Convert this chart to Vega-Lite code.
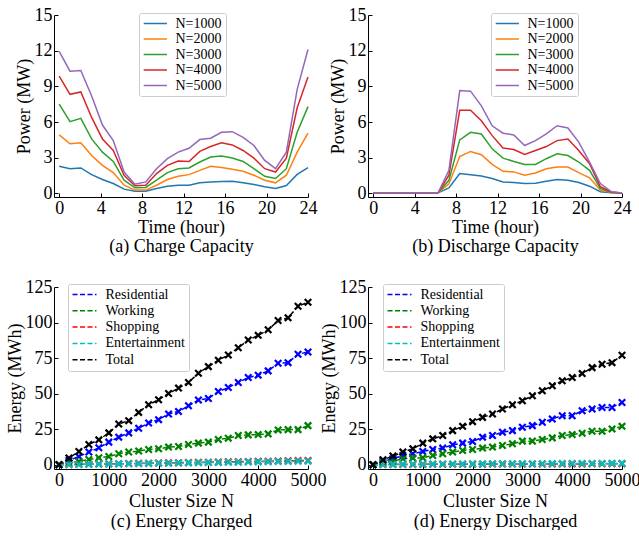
{
"$schema": "https://vega.github.io/schema/vega-lite/v6.json",
"padding": {"left": 6, "top": 6, "right": 0, "bottom": 0},
"config": {
  "font": "Liberation Serif",
  "view": {"stroke": null},
  "axis": {"domainColor": "black", "tickColor": "black", "tickSize": -4, "labelFont": "Liberation Serif", "labelFontSize": 18, "labelColor": "black", "titleFont": "Liberation Serif", "titleFontSize": 18, "titleFontWeight": "normal", "titleColor": "black", "grid": false, "labelFlush": false, "labelOverlap": false, "format": "d"},
  "axisX": {"labelPadding": 6, "titlePadding": 1},
  "axisY": {"labelPadding": 6, "titlePadding": 1},
  "legend": {"labelFont": "Liberation Serif", "labelFontSize": 14, "labelColor": "black", "strokeColor": "#cccccc", "fillColor": "white", "padding": 3.5, "cornerRadius": 2, "title": null, "orient": "none"}
},
"datasets": {
"charge": [
{"t":0,"s":"N=1000","p":2.28},{"t":1.043,"s":"N=1000","p":2.08},{"t":2.087,"s":"N=1000","p":2.14},{"t":3.13,"s":"N=1000","p":1.58},{"t":4.174,"s":"N=1000","p":1.17},{"t":5.217,"s":"N=1000","p":0.83},{"t":6.261,"s":"N=1000","p":0.36},{"t":7.304,"s":"N=1000","p":0.19},{"t":8.348,"s":"N=1000","p":0.19},{"t":9.391,"s":"N=1000","p":0.42},{"t":10.435,"s":"N=1000","p":0.61},{"t":11.478,"s":"N=1000","p":0.69},{"t":12.522,"s":"N=1000","p":0.69},{"t":13.565,"s":"N=1000","p":0.89},{"t":14.609,"s":"N=1000","p":0.97},{"t":15.652,"s":"N=1000","p":1.0},{"t":16.696,"s":"N=1000","p":1.03},{"t":17.739,"s":"N=1000","p":0.89},{"t":18.783,"s":"N=1000","p":0.75},{"t":19.826,"s":"N=1000","p":0.56},{"t":20.87,"s":"N=1000","p":0.42},{"t":21.913,"s":"N=1000","p":0.66},{"t":22.957,"s":"N=1000","p":1.6},{"t":24,"s":"N=1000","p":2.17},
{"t":0,"s":"N=2000","p":4.92},{"t":1.043,"s":"N=2000","p":4.17},{"t":2.087,"s":"N=2000","p":4.25},{"t":3.13,"s":"N=2000","p":3.19},{"t":4.174,"s":"N=2000","p":2.36},{"t":5.217,"s":"N=2000","p":1.75},{"t":6.261,"s":"N=2000","p":0.69},{"t":7.304,"s":"N=2000","p":0.28},{"t":8.348,"s":"N=2000","p":0.28},{"t":9.391,"s":"N=2000","p":0.69},{"t":10.435,"s":"N=2000","p":1.17},{"t":11.478,"s":"N=2000","p":1.44},{"t":12.522,"s":"N=2000","p":1.58},{"t":13.565,"s":"N=2000","p":1.94},{"t":14.609,"s":"N=2000","p":2.28},{"t":15.652,"s":"N=2000","p":2.17},{"t":16.696,"s":"N=2000","p":2.03},{"t":17.739,"s":"N=2000","p":1.86},{"t":18.783,"s":"N=2000","p":1.53},{"t":19.826,"s":"N=2000","p":1.11},{"t":20.87,"s":"N=2000","p":0.89},{"t":21.913,"s":"N=2000","p":1.53},{"t":22.957,"s":"N=2000","p":3.47},{"t":24,"s":"N=2000","p":5.06},
{"t":0,"s":"N=3000","p":7.5},{"t":1.043,"s":"N=3000","p":6.03},{"t":2.087,"s":"N=3000","p":6.31},{"t":3.13,"s":"N=3000","p":4.58},{"t":4.174,"s":"N=3000","p":3.47},{"t":5.217,"s":"N=3000","p":2.69},{"t":6.261,"s":"N=3000","p":1.11},{"t":7.304,"s":"N=3000","p":0.47},{"t":8.348,"s":"N=3000","p":0.5},{"t":9.391,"s":"N=3000","p":1.11},{"t":10.435,"s":"N=3000","p":1.75},{"t":11.478,"s":"N=3000","p":2.08},{"t":12.522,"s":"N=3000","p":2.14},{"t":13.565,"s":"N=3000","p":2.64},{"t":14.609,"s":"N=3000","p":3.06},{"t":15.652,"s":"N=3000","p":3.14},{"t":16.696,"s":"N=3000","p":2.97},{"t":17.739,"s":"N=3000","p":2.69},{"t":18.783,"s":"N=3000","p":2.08},{"t":19.826,"s":"N=3000","p":1.44},{"t":20.87,"s":"N=3000","p":1.25},{"t":21.913,"s":"N=3000","p":2.08},{"t":22.957,"s":"N=3000","p":5.14},{"t":24,"s":"N=3000","p":7.3},
{"t":0,"s":"N=4000","p":9.86},{"t":1.043,"s":"N=4000","p":8.33},{"t":2.087,"s":"N=4000","p":8.53},{"t":3.13,"s":"N=4000","p":6.39},{"t":4.174,"s":"N=4000","p":4.58},{"t":5.217,"s":"N=4000","p":3.61},{"t":6.261,"s":"N=4000","p":1.53},{"t":7.304,"s":"N=4000","p":0.64},{"t":8.348,"s":"N=4000","p":0.69},{"t":9.391,"s":"N=4000","p":1.67},{"t":10.435,"s":"N=4000","p":2.36},{"t":11.478,"s":"N=4000","p":2.72},{"t":12.522,"s":"N=4000","p":2.69},{"t":13.565,"s":"N=4000","p":3.53},{"t":14.609,"s":"N=4000","p":3.94},{"t":15.652,"s":"N=4000","p":4.25},{"t":16.696,"s":"N=4000","p":4.08},{"t":17.739,"s":"N=4000","p":3.61},{"t":18.783,"s":"N=4000","p":2.97},{"t":19.826,"s":"N=4000","p":2.08},{"t":20.87,"s":"N=4000","p":1.8},{"t":21.913,"s":"N=4000","p":2.97},{"t":22.957,"s":"N=4000","p":7.2},{"t":24,"s":"N=4000","p":9.78},
{"t":0,"s":"N=5000","p":11.94},{"t":1.043,"s":"N=5000","p":10.28},{"t":2.087,"s":"N=5000","p":10.33},{"t":3.13,"s":"N=5000","p":8.19},{"t":4.174,"s":"N=5000","p":5.75},{"t":5.217,"s":"N=5000","p":4.44},{"t":6.261,"s":"N=5000","p":1.8},{"t":7.304,"s":"N=5000","p":0.78},{"t":8.348,"s":"N=5000","p":0.97},{"t":9.391,"s":"N=5000","p":2.08},{"t":10.435,"s":"N=5000","p":2.92},{"t":11.478,"s":"N=5000","p":3.47},{"t":12.522,"s":"N=5000","p":3.8},{"t":13.565,"s":"N=5000","p":4.53},{"t":14.609,"s":"N=5000","p":4.64},{"t":15.652,"s":"N=5000","p":5.14},{"t":16.696,"s":"N=5000","p":5.19},{"t":17.739,"s":"N=5000","p":4.72},{"t":18.783,"s":"N=5000","p":4.03},{"t":19.826,"s":"N=5000","p":2.78},{"t":20.87,"s":"N=5000","p":2.08},{"t":21.913,"s":"N=5000","p":3.47},{"t":22.957,"s":"N=5000","p":8.75},{"t":24,"s":"N=5000","p":12.1}
],
"discharge": [
{"t":0,"s":"N=1000","p":0.05},{"t":1.043,"s":"N=1000","p":0.05},{"t":2.087,"s":"N=1000","p":0.05},{"t":3.13,"s":"N=1000","p":0.05},{"t":4.174,"s":"N=1000","p":0.05},{"t":5.217,"s":"N=1000","p":0.05},{"t":6.261,"s":"N=1000","p":0.05},{"t":7.304,"s":"N=1000","p":0.47},{"t":8.348,"s":"N=1000","p":1.67},{"t":9.391,"s":"N=1000","p":1.58},{"t":10.435,"s":"N=1000","p":1.47},{"t":11.478,"s":"N=1000","p":1.25},{"t":12.522,"s":"N=1000","p":0.97},{"t":13.565,"s":"N=1000","p":0.92},{"t":14.609,"s":"N=1000","p":0.83},{"t":15.652,"s":"N=1000","p":0.86},{"t":16.696,"s":"N=1000","p":1.03},{"t":17.739,"s":"N=1000","p":1.17},{"t":18.783,"s":"N=1000","p":1.11},{"t":19.826,"s":"N=1000","p":0.92},{"t":20.87,"s":"N=1000","p":0.61},{"t":21.913,"s":"N=1000","p":0.14},{"t":22.957,"s":"N=1000","p":0.05},{"t":24,"s":"N=1000","p":0.03},
{"t":0,"s":"N=2000","p":0.05},{"t":1.043,"s":"N=2000","p":0.05},{"t":2.087,"s":"N=2000","p":0.05},{"t":3.13,"s":"N=2000","p":0.05},{"t":4.174,"s":"N=2000","p":0.05},{"t":5.217,"s":"N=2000","p":0.05},{"t":6.261,"s":"N=2000","p":0.05},{"t":7.304,"s":"N=2000","p":0.8},{"t":8.348,"s":"N=2000","p":3.1},{"t":9.391,"s":"N=2000","p":3.53},{"t":10.435,"s":"N=2000","p":3.25},{"t":11.478,"s":"N=2000","p":2.44},{"t":12.522,"s":"N=2000","p":1.86},{"t":13.565,"s":"N=2000","p":1.81},{"t":14.609,"s":"N=2000","p":1.53},{"t":15.652,"s":"N=2000","p":1.72},{"t":16.696,"s":"N=2000","p":2.08},{"t":17.739,"s":"N=2000","p":2.22},{"t":18.783,"s":"N=2000","p":2.22},{"t":19.826,"s":"N=2000","p":1.75},{"t":20.87,"s":"N=2000","p":1.31},{"t":21.913,"s":"N=2000","p":0.28},{"t":22.957,"s":"N=2000","p":0.08},{"t":24,"s":"N=2000","p":0.03},
{"t":0,"s":"N=3000","p":0.05},{"t":1.043,"s":"N=3000","p":0.05},{"t":2.087,"s":"N=3000","p":0.05},{"t":3.13,"s":"N=3000","p":0.05},{"t":4.174,"s":"N=3000","p":0.05},{"t":5.217,"s":"N=3000","p":0.05},{"t":6.261,"s":"N=3000","p":0.05},{"t":7.304,"s":"N=3000","p":1.1},{"t":8.348,"s":"N=3000","p":4.5},{"t":9.391,"s":"N=3000","p":5.14},{"t":10.435,"s":"N=3000","p":5.0},{"t":11.478,"s":"N=3000","p":3.75},{"t":12.522,"s":"N=3000","p":2.97},{"t":13.565,"s":"N=3000","p":2.69},{"t":14.609,"s":"N=3000","p":2.44},{"t":15.652,"s":"N=3000","p":2.44},{"t":16.696,"s":"N=3000","p":2.92},{"t":17.739,"s":"N=3000","p":3.33},{"t":18.783,"s":"N=3000","p":3.19},{"t":19.826,"s":"N=3000","p":2.64},{"t":20.87,"s":"N=3000","p":1.94},{"t":21.913,"s":"N=3000","p":0.42},{"t":22.957,"s":"N=3000","p":0.1},{"t":24,"s":"N=3000","p":0.03},
{"t":0,"s":"N=4000","p":0.05},{"t":1.043,"s":"N=4000","p":0.05},{"t":2.087,"s":"N=4000","p":0.05},{"t":3.13,"s":"N=4000","p":0.05},{"t":4.174,"s":"N=4000","p":0.05},{"t":5.217,"s":"N=4000","p":0.05},{"t":6.261,"s":"N=4000","p":0.05},{"t":7.304,"s":"N=4000","p":1.53},{"t":8.348,"s":"N=4000","p":7.0},{"t":9.391,"s":"N=4000","p":7.0},{"t":10.435,"s":"N=4000","p":6.11},{"t":11.478,"s":"N=4000","p":4.86},{"t":12.522,"s":"N=4000","p":3.81},{"t":13.565,"s":"N=4000","p":3.69},{"t":14.609,"s":"N=4000","p":3.28},{"t":15.652,"s":"N=4000","p":3.61},{"t":16.696,"s":"N=4000","p":3.94},{"t":17.739,"s":"N=4000","p":4.44},{"t":18.783,"s":"N=4000","p":4.58},{"t":19.826,"s":"N=4000","p":3.61},{"t":20.87,"s":"N=4000","p":2.5},{"t":21.913,"s":"N=4000","p":0.56},{"t":22.957,"s":"N=4000","p":0.12},{"t":24,"s":"N=4000","p":0.03},
{"t":0,"s":"N=5000","p":0.05},{"t":1.043,"s":"N=5000","p":0.05},{"t":2.087,"s":"N=5000","p":0.05},{"t":3.13,"s":"N=5000","p":0.05},{"t":4.174,"s":"N=5000","p":0.05},{"t":5.217,"s":"N=5000","p":0.05},{"t":6.261,"s":"N=5000","p":0.05},{"t":7.304,"s":"N=5000","p":1.94},{"t":8.348,"s":"N=5000","p":8.65},{"t":9.391,"s":"N=5000","p":8.6},{"t":10.435,"s":"N=5000","p":7.36},{"t":11.478,"s":"N=5000","p":5.69},{"t":12.522,"s":"N=5000","p":5.06},{"t":13.565,"s":"N=5000","p":4.92},{"t":14.609,"s":"N=5000","p":4.03},{"t":15.652,"s":"N=5000","p":4.44},{"t":16.696,"s":"N=5000","p":5.0},{"t":17.739,"s":"N=5000","p":5.69},{"t":18.783,"s":"N=5000","p":5.5},{"t":19.826,"s":"N=5000","p":4.31},{"t":20.87,"s":"N=5000","p":2.64},{"t":21.913,"s":"N=5000","p":0.83},{"t":22.957,"s":"N=5000","p":0.15},{"t":24,"s":"N=5000","p":0.03}
],
"ec": [
{"n":0,"c":"Residential","e":0},{"n":200,"c":"Residential","e":3},{"n":400,"c":"Residential","e":5.8},{"n":600,"c":"Residential","e":8.9},{"n":800,"c":"Residential","e":11.9},{"n":1000,"c":"Residential","e":15.9},{"n":1200,"c":"Residential","e":19.4},{"n":1400,"c":"Residential","e":22.4},{"n":1600,"c":"Residential","e":25.7},{"n":1800,"c":"Residential","e":29.4},{"n":2000,"c":"Residential","e":31.7},{"n":2200,"c":"Residential","e":35.7},{"n":2400,"c":"Residential","e":37.5},{"n":2600,"c":"Residential","e":41.5},{"n":2800,"c":"Residential","e":45.5},{"n":3000,"c":"Residential","e":46.6},{"n":3200,"c":"Residential","e":51.5},{"n":3400,"c":"Residential","e":54.3},{"n":3600,"c":"Residential","e":57.8},{"n":3800,"c":"Residential","e":61.3},{"n":4000,"c":"Residential","e":63},{"n":4200,"c":"Residential","e":66},{"n":4400,"c":"Residential","e":71.4},{"n":4600,"c":"Residential","e":71.8},{"n":4800,"c":"Residential","e":77.7},{"n":5000,"c":"Residential","e":79.3},
{"n":0,"c":"Working","e":0},{"n":200,"c":"Working","e":1.4},{"n":400,"c":"Working","e":2.3},{"n":600,"c":"Working","e":3.7},{"n":800,"c":"Working","e":4.9},{"n":1000,"c":"Working","e":5.8},{"n":1200,"c":"Working","e":7.7},{"n":1400,"c":"Working","e":8.9},{"n":1600,"c":"Working","e":9.6},{"n":1800,"c":"Working","e":10.7},{"n":2000,"c":"Working","e":11.2},{"n":2200,"c":"Working","e":12.4},{"n":2400,"c":"Working","e":12.8},{"n":2600,"c":"Working","e":14.2},{"n":2800,"c":"Working","e":15.2},{"n":3000,"c":"Working","e":15.9},{"n":3200,"c":"Working","e":17.7},{"n":3400,"c":"Working","e":18.7},{"n":3600,"c":"Working","e":20.5},{"n":3800,"c":"Working","e":21},{"n":4000,"c":"Working","e":21.2},{"n":4200,"c":"Working","e":21.7},{"n":4400,"c":"Working","e":24.5},{"n":4600,"c":"Working","e":24.7},{"n":4800,"c":"Working","e":24.7},{"n":5000,"c":"Working","e":27.5},
{"n":0,"c":"Shopping","e":0},{"n":200,"c":"Shopping","e":0.2},{"n":400,"c":"Shopping","e":0.3},{"n":600,"c":"Shopping","e":0.4},{"n":800,"c":"Shopping","e":0.5},{"n":1000,"c":"Shopping","e":0.6},{"n":1200,"c":"Shopping","e":0.7},{"n":1400,"c":"Shopping","e":0.85},{"n":1600,"c":"Shopping","e":0.95},{"n":1800,"c":"Shopping","e":1.1},{"n":2000,"c":"Shopping","e":1.2},{"n":2200,"c":"Shopping","e":1.3},{"n":2400,"c":"Shopping","e":1.45},{"n":2600,"c":"Shopping","e":1.55},{"n":2800,"c":"Shopping","e":1.7},{"n":3000,"c":"Shopping","e":1.8},{"n":3200,"c":"Shopping","e":1.9},{"n":3400,"c":"Shopping","e":2.05},{"n":3600,"c":"Shopping","e":2.15},{"n":3800,"c":"Shopping","e":2.3},{"n":4000,"c":"Shopping","e":2.4},{"n":4200,"c":"Shopping","e":2.5},{"n":4400,"c":"Shopping","e":2.65},{"n":4600,"c":"Shopping","e":2.75},{"n":4800,"c":"Shopping","e":2.9},{"n":5000,"c":"Shopping","e":3.0},
{"n":0,"c":"Entertainment","e":0},{"n":200,"c":"Entertainment","e":0.12},{"n":400,"c":"Entertainment","e":0.2},{"n":600,"c":"Entertainment","e":0.33},{"n":800,"c":"Entertainment","e":0.41},{"n":1000,"c":"Entertainment","e":0.52},{"n":1200,"c":"Entertainment","e":0.6},{"n":1400,"c":"Entertainment","e":0.71},{"n":1600,"c":"Entertainment","e":0.83},{"n":1800,"c":"Entertainment","e":0.9},{"n":2000,"c":"Entertainment","e":1.02},{"n":2200,"c":"Entertainment","e":1.1},{"n":2400,"c":"Entertainment","e":1.22},{"n":2600,"c":"Entertainment","e":1.3},{"n":2800,"c":"Entertainment","e":1.41},{"n":3000,"c":"Entertainment","e":1.52},{"n":3200,"c":"Entertainment","e":1.6},{"n":3400,"c":"Entertainment","e":1.72},{"n":3600,"c":"Entertainment","e":1.8},{"n":3800,"c":"Entertainment","e":1.92},{"n":4000,"c":"Entertainment","e":2.0},{"n":4200,"c":"Entertainment","e":2.12},{"n":4400,"c":"Entertainment","e":2.2},{"n":4600,"c":"Entertainment","e":2.31},{"n":4800,"c":"Entertainment","e":2.42},{"n":5000,"c":"Entertainment","e":2.5},
{"n":0,"c":"Total","e":0},{"n":200,"c":"Total","e":4.7},{"n":400,"c":"Total","e":9.3},{"n":600,"c":"Total","e":14.2},{"n":800,"c":"Total","e":17.5},{"n":1000,"c":"Total","e":22.4},{"n":1200,"c":"Total","e":28.7},{"n":1400,"c":"Total","e":31},{"n":1600,"c":"Total","e":36.8},{"n":1800,"c":"Total","e":42.2},{"n":2000,"c":"Total","e":45.7},{"n":2200,"c":"Total","e":50.1},{"n":2400,"c":"Total","e":53.9},{"n":2600,"c":"Total","e":57.8},{"n":2800,"c":"Total","e":64.4},{"n":3000,"c":"Total","e":69},{"n":3200,"c":"Total","e":73.5},{"n":3400,"c":"Total","e":77.2},{"n":3600,"c":"Total","e":82.3},{"n":3800,"c":"Total","e":87.7},{"n":4000,"c":"Total","e":91},{"n":4200,"c":"Total","e":94.9},{"n":4400,"c":"Total","e":101.4},{"n":4600,"c":"Total","e":103.3},{"n":4800,"c":"Total","e":111.5},{"n":5000,"c":"Total","e":114.3}
],
"ed": [
{"n":0,"c":"Residential","e":0},{"n":200,"c":"Residential","e":2.3},{"n":400,"c":"Residential","e":4.2},{"n":600,"c":"Residential","e":6.5},{"n":800,"c":"Residential","e":7.7},{"n":1000,"c":"Residential","e":9.3},{"n":1200,"c":"Residential","e":10.7},{"n":1400,"c":"Residential","e":11.7},{"n":1600,"c":"Residential","e":14},{"n":1800,"c":"Residential","e":15.2},{"n":2000,"c":"Residential","e":16.3},{"n":2200,"c":"Residential","e":19.4},{"n":2400,"c":"Residential","e":20.5},{"n":2600,"c":"Residential","e":22.9},{"n":2800,"c":"Residential","e":24},{"n":3000,"c":"Residential","e":26.4},{"n":3200,"c":"Residential","e":27.5},{"n":3400,"c":"Residential","e":29.9},{"n":3600,"c":"Residential","e":32.2},{"n":3800,"c":"Residential","e":34.5},{"n":4000,"c":"Residential","e":34.5},{"n":4200,"c":"Residential","e":38},{"n":4400,"c":"Residential","e":39.2},{"n":4600,"c":"Residential","e":40.3},{"n":4800,"c":"Residential","e":40.3},{"n":5000,"c":"Residential","e":43.8},
{"n":0,"c":"Working","e":0},{"n":200,"c":"Working","e":1.4},{"n":400,"c":"Working","e":2.6},{"n":600,"c":"Working","e":4.2},{"n":800,"c":"Working","e":4.7},{"n":1000,"c":"Working","e":4.9},{"n":1200,"c":"Working","e":6.5},{"n":1400,"c":"Working","e":7.7},{"n":1600,"c":"Working","e":8.9},{"n":1800,"c":"Working","e":10},{"n":2000,"c":"Working","e":10.7},{"n":2200,"c":"Working","e":11.7},{"n":2400,"c":"Working","e":12.4},{"n":2600,"c":"Working","e":13.5},{"n":2800,"c":"Working","e":14.7},{"n":3000,"c":"Working","e":16.6},{"n":3200,"c":"Working","e":16.6},{"n":3400,"c":"Working","e":17.7},{"n":3600,"c":"Working","e":18.9},{"n":3800,"c":"Working","e":20.5},{"n":4000,"c":"Working","e":21.2},{"n":4200,"c":"Working","e":22.2},{"n":4400,"c":"Working","e":23.6},{"n":4600,"c":"Working","e":23.6},{"n":4800,"c":"Working","e":25.2},{"n":5000,"c":"Working","e":27},
{"n":0,"c":"Shopping","e":0},{"n":200,"c":"Shopping","e":0.1},{"n":400,"c":"Shopping","e":0.15},{"n":600,"c":"Shopping","e":0.2},{"n":800,"c":"Shopping","e":0.2},{"n":1000,"c":"Shopping","e":0.25},{"n":1200,"c":"Shopping","e":0.3},{"n":1400,"c":"Shopping","e":0.3},{"n":1600,"c":"Shopping","e":0.35},{"n":1800,"c":"Shopping","e":0.35},{"n":2000,"c":"Shopping","e":0.4},{"n":2200,"c":"Shopping","e":0.4},{"n":2400,"c":"Shopping","e":0.45},{"n":2600,"c":"Shopping","e":0.45},{"n":2800,"c":"Shopping","e":0.5},{"n":3000,"c":"Shopping","e":0.5},{"n":3200,"c":"Shopping","e":0.5},{"n":3400,"c":"Shopping","e":0.55},{"n":3600,"c":"Shopping","e":0.55},{"n":3800,"c":"Shopping","e":0.6},{"n":4000,"c":"Shopping","e":0.6},{"n":4200,"c":"Shopping","e":0.6},{"n":4400,"c":"Shopping","e":0.65},{"n":4600,"c":"Shopping","e":0.65},{"n":4800,"c":"Shopping","e":0.7},{"n":5000,"c":"Shopping","e":0.7},
{"n":0,"c":"Entertainment","e":0},{"n":200,"c":"Entertainment","e":0.15},{"n":400,"c":"Entertainment","e":0.25},{"n":600,"c":"Entertainment","e":0.3},{"n":800,"c":"Entertainment","e":0.35},{"n":1000,"c":"Entertainment","e":0.4},{"n":1200,"c":"Entertainment","e":0.45},{"n":1400,"c":"Entertainment","e":0.5},{"n":1600,"c":"Entertainment","e":0.5},{"n":1800,"c":"Entertainment","e":0.55},{"n":2000,"c":"Entertainment","e":0.6},{"n":2200,"c":"Entertainment","e":0.6},{"n":2400,"c":"Entertainment","e":0.65},{"n":2600,"c":"Entertainment","e":0.65},{"n":2800,"c":"Entertainment","e":0.7},{"n":3000,"c":"Entertainment","e":0.7},{"n":3200,"c":"Entertainment","e":0.75},{"n":3400,"c":"Entertainment","e":0.75},{"n":3600,"c":"Entertainment","e":0.8},{"n":3800,"c":"Entertainment","e":0.8},{"n":4000,"c":"Entertainment","e":0.85},{"n":4200,"c":"Entertainment","e":0.85},{"n":4400,"c":"Entertainment","e":0.9},{"n":4600,"c":"Entertainment","e":0.9},{"n":4800,"c":"Entertainment","e":0.95},{"n":5000,"c":"Entertainment","e":0.95},
{"n":0,"c":"Total","e":0},{"n":200,"c":"Total","e":3.5},{"n":400,"c":"Total","e":6.1},{"n":600,"c":"Total","e":8.9},{"n":800,"c":"Total","e":11.2},{"n":1000,"c":"Total","e":15.2},{"n":1200,"c":"Total","e":18.2},{"n":1400,"c":"Total","e":20.5},{"n":1600,"c":"Total","e":24},{"n":1800,"c":"Total","e":27},{"n":2000,"c":"Total","e":30.3},{"n":2200,"c":"Total","e":33.3},{"n":2400,"c":"Total","e":35.7},{"n":2600,"c":"Total","e":39.2},{"n":2800,"c":"Total","e":42.2},{"n":3000,"c":"Total","e":45},{"n":3200,"c":"Total","e":48.5},{"n":3400,"c":"Total","e":52},{"n":3600,"c":"Total","e":55.5},{"n":3800,"c":"Total","e":59},{"n":4000,"c":"Total","e":61.3},{"n":4200,"c":"Total","e":64.1},{"n":4400,"c":"Total","e":68.3},{"n":4600,"c":"Total","e":70.7},{"n":4800,"c":"Total","e":71.8},{"n":5000,"c":"Total","e":77}
]
},
"columns": 2,
"spacing": {"row": 90, "column": 60},
"bounds": "flush",
"resolve": {"scale": {"color": "independent", "x": "independent", "y": "independent"}, "legend": {"color": "independent"}, "axis": {"x": "independent", "y": "independent"}},
"concat": [
  {"width": 254, "height": 182, "data": {"name": "charge"},
   "mark": {"type": "line", "strokeWidth": 1.5},
   "encoding": {
    "x": {"field": "t", "type": "quantitative", "scale": {"domain": [-0.5, 24], "nice": false, "zero": false}, "axis": {"values": [0,4,8,12,16,20,24], "title": ["Time (hour)", "(a) Charge Capacity"], "titleLineHeight": 19}},
    "y": {"field": "p", "type": "quantitative", "scale": {"domain": [-0.3, 15], "nice": false, "zero": false}, "axis": {"values": [0,3,6,9,12,15], "title": "Power (MW)"}},
    "color": {"field": "s", "type": "nominal", "scale": {"domain": ["N=1000","N=2000","N=3000","N=4000","N=5000"], "range": ["#1f77b4","#ff7f0e","#2ca02c","#d62728","#9467bd"]},
     "legend": {"legendX": 85, "legendY": -2, "symbolType": "M-1,0H3", "symbolSize": 135, "symbolStrokeWidth": 1.5, "labelOffset": 19, "rowPadding": 1.5, "labelFont": "Liberation Serif"}}
   }},
  {"width": 254, "height": 182, "data": {"name": "discharge"},
   "mark": {"type": "line", "strokeWidth": 1.5},
   "encoding": {
    "x": {"field": "t", "type": "quantitative", "scale": {"domain": [-0.5, 24], "nice": false, "zero": false}, "axis": {"values": [0,4,8,12,16,20,24], "title": ["Time (hour)", "(b) Discharge Capacity"], "titleLineHeight": 19}},
    "y": {"field": "p", "type": "quantitative", "scale": {"domain": [-0.3, 15], "nice": false, "zero": false}, "axis": {"values": [0,3,6,9,12,15], "title": "Power (MW)"}},
    "color": {"field": "s", "type": "nominal", "scale": {"domain": ["N=1000","N=2000","N=3000","N=4000","N=5000"], "range": ["#1f77b4","#ff7f0e","#2ca02c","#d62728","#9467bd"]},
     "legend": {"legendX": 123, "legendY": -2, "symbolType": "M-1,0H3", "symbolSize": 135, "symbolStrokeWidth": 1.5, "labelOffset": 19, "rowPadding": 1.5, "labelFont": "Liberation Serif"}}
   }},
  {"width": 254, "height": 182, "data": {"name": "ec"},
   "encoding": {
    "x": {"field": "n", "type": "quantitative", "scale": {"domain": [-100, 5000], "nice": false, "zero": false}, "axis": {"values": [0,1000,2000,3000,4000,5000], "title": ["Cluster Size N", "(c) Energy Charged"], "titleLineHeight": 20, "titlePadding": 3}},
    "y": {"field": "e", "type": "quantitative", "scale": {"domain": [-3, 125], "nice": false, "zero": false}, "axis": {"values": [0,25,50,75,100,125], "title": "Energy (MWh)"}},
    "color": {"field": "c", "type": "nominal", "scale": {"domain": ["Residential","Working","Shopping","Entertainment","Total"], "range": ["#0000ff","#008000","#ff0000","#00bfbf","#000000"]},
     "legend": {"legendX": 14, "legendY": -3, "symbolType": "M-1,0H3", "symbolSize": 144, "symbolStrokeWidth": 1.5, "symbolDash": [5, 2.5], "labelOffset": 20, "rowPadding": 2.3, "labelFont": "Liberation Serif"}}
   },
   "layer": [
    {"mark": {"type": "line", "strokeWidth": 1.5, "strokeDash": [5, 2.5]}},
    {"mark": {"type": "point", "shape": "M-1,-1L1,1M-1,1L1,-1", "filled": false, "size": 42, "strokeWidth": 2.2, "opacity": 1}}
   ]},
  {"width": 254, "height": 182, "data": {"name": "ed"},
   "encoding": {
    "x": {"field": "n", "type": "quantitative", "scale": {"domain": [-100, 5000], "nice": false, "zero": false}, "axis": {"values": [0,1000,2000,3000,4000,5000], "title": ["Cluster Size N", "(d) Energy Discharged"], "titleLineHeight": 20, "titlePadding": 3}},
    "y": {"field": "e", "type": "quantitative", "scale": {"domain": [-3, 125], "nice": false, "zero": false}, "axis": {"values": [0,25,50,75,100,125], "title": "Energy (MWh)"}},
    "color": {"field": "c", "type": "nominal", "scale": {"domain": ["Residential","Working","Shopping","Entertainment","Total"], "range": ["#0000ff","#008000","#ff0000","#00bfbf","#000000"]},
     "legend": {"legendX": 15, "legendY": -3, "symbolType": "M-1,0H3", "symbolSize": 144, "symbolStrokeWidth": 1.5, "symbolDash": [5, 2.5], "labelOffset": 20, "rowPadding": 2.3, "labelFont": "Liberation Serif"}}
   },
   "layer": [
    {"mark": {"type": "line", "strokeWidth": 1.5, "strokeDash": [5, 2.5]}},
    {"mark": {"type": "point", "shape": "M-1,-1L1,1M-1,1L1,-1", "filled": false, "size": 42, "strokeWidth": 2.2, "opacity": 1}}
   ]}
]
}
